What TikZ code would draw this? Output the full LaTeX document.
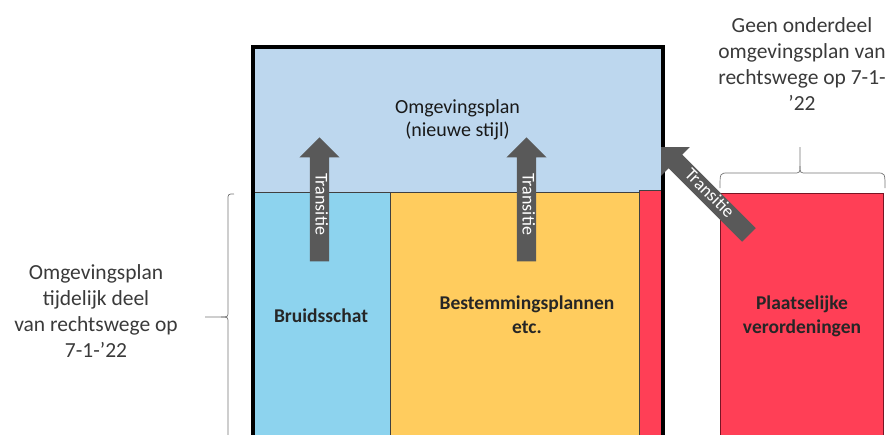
\documentclass[tikz,border=0pt]{standalone}
\usepackage{fontspec}
\setmainfont{Carlito}
\usetikzlibrary{shapes.arrows}
\definecolor{planblauw}{HTML}{BDD7EE}
\definecolor{schatblauw}{HTML}{8DD3EE}
\definecolor{bpgeel}{HTML}{FFCC5E}
\definecolor{apvrood}{HTML}{FF3F56}
\definecolor{apvrand}{HTML}{7A1424}
\definecolor{pijlgrijs}{HTML}{595959}
\definecolor{tekstgrijs}{HTML}{3A3A3A}
\begin{document}
\begin{tikzpicture}
  [x=1pt, y=-1pt,
   inner sep=0pt,
   vlak/.style={draw=black!75, line width=0.6pt, anchor=north west},
   kop/.style={font=\fontsize{20}{23}\selectfont, text=black!90, align=center},
   deel/.style={font=\bfseries\fontsize{19.5}{24}\selectfont, text=black!85, align=center},
   noot/.style={font=\fontsize{21.5}{26}\selectfont, text=tekstgrijs, align=center},
   transitie/.style={single arrow, shape border rotate=180, fill=pijlgrijs, text=white,
     font=\fontsize{18}{18}\selectfont, minimum height=124pt, minimum width=40pt,
     single arrow head extend=10.5pt, text height=11pt, text depth=3pt,
     inner ysep=2.5pt, inner xsep=0pt, anchor=tip},
   accolade/.style={draw=black!55, line width=0.7pt}]
  \useasboundingbox (0,0) rectangle (888,434);
  \clip (0,0) rectangle (888,434);
  % vlakken
  \node (plan)  [vlak, fill=planblauw, minimum width=410pt, minimum height=147pt] at (253,45) {};
  \node (bruid) [vlak, fill=schatblauw, minimum width=137pt, minimum height=260pt] at (253,192) {};
  \node (bp)    [vlak, fill=bpgeel, minimum width=249pt, minimum height=260pt] at (390,192) {};
  \node (strip) [vlak, fill=apvrood, minimum width=24pt, minimum height=262pt] at (639,190) {};
  \node (apv)   [vlak, draw=apvrand, line width=1.2pt, fill=apvrood, minimum width=163pt, minimum height=260pt] at (720,193) {};
  \draw [line width=4pt] (253,440) -- (253,47) -- (663,47) -- (663,440);
  % teksten
  \node (plantekst)  [kop]  at (457.5,120) {Omgevingsplan\\(nieuwe stijl)};
  \node (bruidtekst) [deel] at (321,316) {Bruidsschat};
  \node (bptekst)    [deel] at (527,315) {Bestemmingsplannen\\etc.};
  \node (apvtekst)   [deel] at (802,316) {Plaatselijke\\verordeningen};
  \node (links)  [noot] at (96,311) {Omgevingsplan\\tijdelijk deel\\van rechtswege op\\7-1-'22};
  \node (rechts) [noot] at (802,64) {Geen onderdeel\\omgevingsplan van\\rechtswege op 7-1-\\'22};
  % transitiepijlen
  \node (t1) [transitie, rotate=-90] at (319.5,137) {Transitie};
  \node (t2) [transitie, rotate=-90] at (526.5,137) {Transitie};
  \node (t3) [transitie, rotate=-45] at (661,147) {Transitie};
  % accolades
  \draw [accolade] (234,194) .. controls (228,194) .. (228,200) -- (228,311)
    .. controls (228,317) .. (221,317) -- (205,317);
  \draw [accolade] (221,317) .. controls (228,317) .. (228,323) -- (228,440);
  \draw [accolade] (720,188) .. controls (720,173) .. (728,173) -- (793,173)
    .. controls (800,173) .. (800,166) -- (800,147);
  \draw [accolade] (885,188) .. controls (885,173) .. (877,173) -- (807,173)
    .. controls (800,173) .. (800,166);
\end{tikzpicture}
\end{document}
